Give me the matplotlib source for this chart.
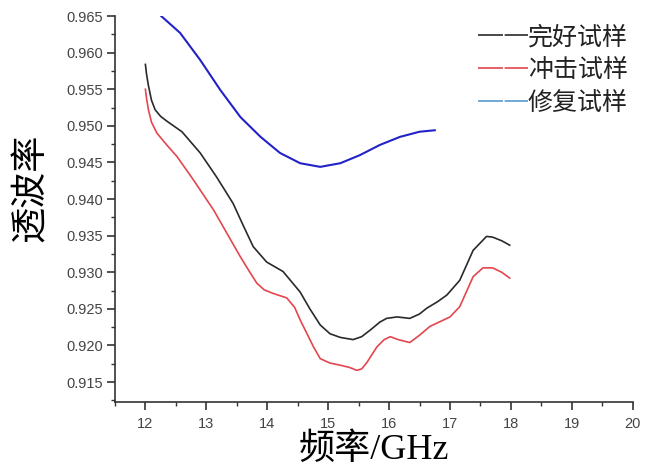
import matplotlib
matplotlib.use("Agg")
import matplotlib.pyplot as plt
from matplotlib.lines import Line2D

plt.rcParams['font.family'] = ['Liberation Sans', 'Noto Sans CJK SC', 'DejaVu Sans']

# 完好试样 (intact)
x_intact = [12.0, 12.02, 12.05, 12.1, 12.16, 12.25, 12.36, 12.6, 12.9, 13.17, 13.44, 13.6, 13.77,
            13.99, 14.26, 14.54, 14.7, 14.87, 15.03, 15.2, 15.41, 15.55, 15.69, 15.85, 15.96,
            16.13, 16.34, 16.5, 16.62, 16.8, 16.95, 17.16, 17.38, 17.6, 17.7, 17.85, 17.98]
y_intact = [0.9584, 0.9570, 0.9555, 0.9535, 0.9522, 0.9513, 0.9506, 0.9492, 0.9463, 0.9430, 0.9394,
            0.9365, 0.9335, 0.9314, 0.9301, 0.9273, 0.9250, 0.9228, 0.9216, 0.9211, 0.9208, 0.9212,
            0.9221, 0.9232, 0.9237, 0.9239, 0.9237, 0.9243, 0.9251, 0.9260, 0.9269, 0.9289, 0.9330,
            0.9349, 0.9348, 0.9343, 0.9337]

# 冲击试样 (impacted)
x_impact = [12.0, 12.02, 12.05, 12.1, 12.19, 12.35, 12.52, 12.79, 13.12, 13.34, 13.56, 13.7, 13.83,
            13.95, 14.1, 14.32, 14.45, 14.54, 14.76, 14.87, 15.03, 15.2, 15.35, 15.47, 15.55, 15.63,
            15.8, 15.92, 16.02, 16.15, 16.34, 16.5, 16.67, 17.0, 17.16, 17.38, 17.54, 17.7, 17.85, 17.98]
y_impact = [0.9550, 0.9537, 0.9522, 0.9505, 0.9490, 0.9474, 0.9458, 0.9426, 0.9385, 0.9353, 0.9321,
            0.9302, 0.9285, 0.9276, 0.9271, 0.9265, 0.9252, 0.9235, 0.9198, 0.9182, 0.9176, 0.9173,
            0.9170, 0.9166, 0.9168, 0.9176, 0.9198, 0.9208, 0.9212, 0.9208, 0.9204, 0.9214, 0.9226,
            0.9239, 0.9253, 0.9294, 0.9306, 0.9306, 0.9300, 0.9292]

# 修复试样 (repaired)
x_repair = [12.26, 12.57, 12.9, 13.23, 13.56, 13.89, 14.21, 14.54, 14.87, 15.2, 15.52, 15.85,
            16.18, 16.5, 16.75]
y_repair = [0.9650, 0.9627, 0.9590, 0.9549, 0.9512, 0.9485, 0.9463, 0.9449, 0.9444, 0.9449, 0.9460,
            0.9474, 0.9485, 0.9492, 0.9494]

labels = ['完好试样', '冲击试样', '修复试样']
x_ticks = [12, 13, 14, 15, 16, 17, 18, 19, 20]
y_ticks = [0.915, 0.920, 0.925, 0.930, 0.935, 0.940, 0.945, 0.950, 0.955, 0.960, 0.965]

fig = plt.figure(figsize=(6.53, 4.73), dpi=100)
ax = fig.add_axes([0.176, 0.150, 0.793, 0.816])

ax.plot(x_intact, y_intact, color='#2a2a2a', lw=1.2)
ax.plot(x_impact, y_impact, color='#e4464f', lw=1.2)
ax.plot(x_repair, y_repair, color='#2222c8', lw=1.5)

ax.set_xlim(11.5, 20)
ax.set_ylim(0.91227, 0.965)
ax.set_xticks(x_ticks)
ax.set_yticks(y_ticks)
ax.set_xticks([t + 0.5 for t in x_ticks[:-1]] + [11.5], minor=True)
ax.set_yticks([t - 0.0025 for t in y_ticks], minor=True)
ax.set_xticklabels([str(t) for t in x_ticks])
ax.set_yticklabels(['%.3f' % t for t in y_ticks])

for s in ['top', 'right']:
    ax.spines[s].set_visible(False)
for s in ['left', 'bottom']:
    ax.spines[s].set_color('#333333')
    ax.spines[s].set_linewidth(1.2)
ax.tick_params(axis='both', which='major', direction='out', length=5.5, width=1.2,
               colors='#333333', labelsize=10.5, labelcolor='#444444')
ax.tick_params(axis='both', which='minor', direction='out', length=3, width=1.0, colors='#333333')
ax.tick_params(axis='x', pad=5)
ax.tick_params(axis='y', pad=3)

ax.set_ylabel('透波率', fontsize=26, family=['Noto Sans CJK SC'])
ax.yaxis.set_label_coords(-0.128, 0.554)
ax.set_xlabel('频率/GHz', fontsize=26, family=['Liberation Serif', 'Noto Sans CJK SC'], labelpad=2)

handles = [Line2D([], [], color='#2a2a2a', lw=1.2, dashes=(15, 1.0)),
           Line2D([], [], color='#e4464f', lw=1.2, dashes=(15, 1.0)),
           Line2D([], [], color='#5a9ad0', lw=1.2, dashes=(15, 1.0))]
leg = ax.legend(handles, labels, loc='upper right', bbox_to_anchor=(1.01, 1.005), frameon=False,
                prop={'family': ['Noto Sans CJK SC'], 'size': 18}, handlelength=2.0,
                handletextpad=0.0, labelspacing=0.28, borderaxespad=0.0)
for t in leg.get_texts():
    t.set_color('#222222')

fig.savefig('out.png', dpi=100)
